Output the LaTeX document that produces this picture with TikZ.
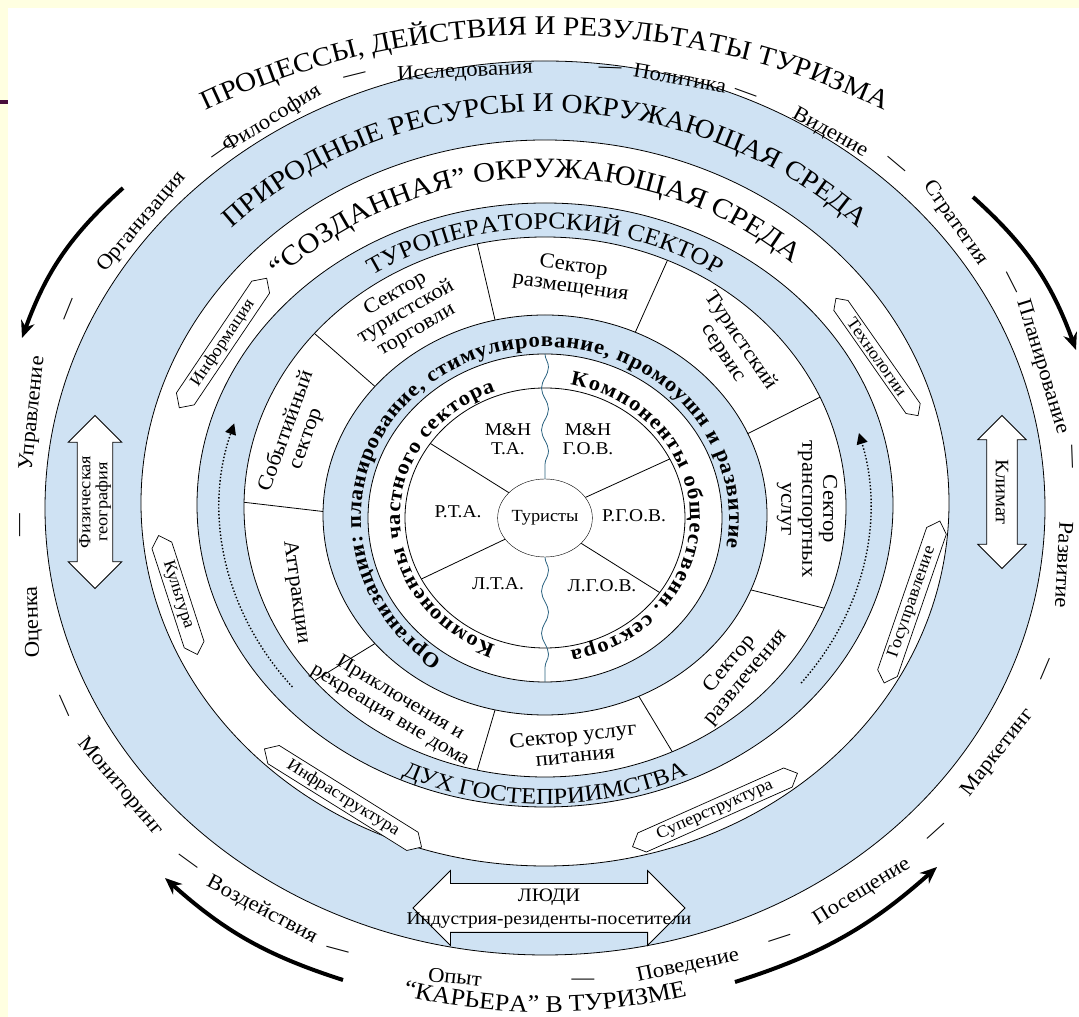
\documentclass[tikz,border=0pt]{standalone}
\usepackage{fontspec}
\setmainfont[FakeStretch=1.08]{Liberation Serif}
\usetikzlibrary{calc,arrows.meta,decorations.text,decorations.pathmorphing,shapes.arrows,shapes.symbols,shapes.geometric}

\definecolor{ringblue}{RGB}{207,226,243}
\definecolor{pagecream}{RGB}{255,255,225}
\definecolor{barpurple}{RGB}{72,12,58}
\definecolor{rivercol}{RGB}{45,100,130}

\newcommand{\fnttitle}{\fontsize{27}{27}\selectfont}
\newcommand{\fntmid}{\fontsize{24}{24}\selectfont}
\newcommand{\fntring}{\fontsize{21}{21}\selectfont\bfseries}
\newcommand{\fntcomp}{\fontsize{21}{21}\selectfont\bfseries}

\tikzset{
  ringline/.style={draw=black, line width=0.8pt},
  word/.style={font=\fontsize{21}{23}\selectfont, inner sep=0pt},
  sectortext/.style={font=\fontsize{21}{21}\selectfont, align=center, inner sep=0pt},
  cellstext/.style={font=\fontsize{18}{19}\selectfont, align=center, inner sep=0pt},
  tagarrow/.style={signal, signal to=east and west, draw, fill=white, line width=0.7pt,
    font=\fontsize{17}{17}\selectfont, inner xsep=17pt, inner ysep=3pt},
  bigarrow/.style={line width=4pt, -{Stealth[length=17pt,width=14pt]}},
  blockarrow/.style={double arrow, draw, fill=white, line width=0.8pt},
  dotarc/.style={dotted, line width=1.4pt, -{Triangle[length=11pt,width=11pt]}},
  river/.style={draw=rivercol, line width=0.8pt, decorate,
    decoration={snake, amplitude=3.5pt, segment length=42pt}},
}

\begin{document}
\begin{tikzpicture}[x=1pt,y=1pt]
\useasboundingbox (0,0) rectangle (1079,1017);
% page
\fill[pagecream] (0,0) rectangle (1079,1017);
\fill[white] (8,0) rectangle (1079,1009);
\fill[barpurple] (0,913) rectangle (8,917);

% centres of the rings
\coordinate (c0) at (545,499);
\coordinate (c3) at (545,502);
\coordinate (c4) at (545,510);
\coordinate (c5) at (545,512);
\coordinate (c6) at (545,514);
\coordinate (c7) at (545,509);
\coordinate (ct) at (545,417);

% rings
\fill[ringblue] (c7) ellipse [x radius=500, y radius=447];
\fill[white] (c6) ellipse [x radius=404, y radius=363];
\fill[ringblue] (c5) ellipse [x radius=348, y radius=302];
\fill[white] (c4) ellipse [x radius=301, y radius=270];
\fill[ringblue] (c3) ellipse [x radius=222, y radius=200];
\fill[white] (c0) ellipse [x radius=177, y radius=164];
\draw[ringline] (c7) ellipse [x radius=500, y radius=447];
\draw[ringline] (c6) ellipse [x radius=404, y radius=363];
\draw[ringline] (c5) ellipse [x radius=348, y radius=302];
\draw[ringline] (c4) ellipse [x radius=301, y radius=270];
\draw[ringline] (c3) ellipse [x radius=222, y radius=200];
\draw[ringline] (c0) ellipse [x radius=177, y radius=164];
\draw[ringline] (c0) ellipse [x radius=140, y radius=130];

% sector ring
\foreach \a in {179,140,103,66,24,-22,-65,-103,-140}
  \draw[ringline] ($(c3)+(\a:222 and 200)$) -- ($(c4)+(\a:301 and 270)$);

\node[sectortext, rotate=30] (trade) at (406,705) {Сектор\\туристской\\торговли};
\node[sectortext, rotate=-8] (lodging) at (572,740) {Сектор\\размещения};
\node[sectortext, rotate=-56] (service) at (732,670) {Туристский\\сервис};
\node[sectortext, rotate=-90] (transport) at (807,508) {Сектор\\транспортных\\услуг};
\node[sectortext, rotate=50] (leisure) at (738,346) {Сектор\\развлечения};
\node[sectortext, rotate=6] (food) at (574,272) {Сектор услуг\\питания};
\node[sectortext, rotate=-31, font=\fontsize{20}{20}\selectfont] (adventure) at (395,310) {Приключения и\\рекреация вне дома};
\node[sectortext, rotate=-82] (attract) at (296,425) {Аттракции};
\node[sectortext, rotate=70] (events) at (296,582) {Событийный\\сектор};

% inner circle
\node[draw, ellipse, minimum width=84pt, minimum height=78pt, inner sep=0pt,
  font=\fontsize{17}{17}\selectfont] (tourists) at (c0) {Туристы};
\foreach \a in {145,27,208,-35}
  \draw[ringline] (tourists.\a) -- ($(c0)+(\a:140 and 130)$);
\coordinate (rivtop) at (545,663);
\coordinate (rivbot) at (545,335);
\draw[river] (rivtop) -- (tourists.north);
\draw[river] (tourists.south) -- (rivbot);

\node[cellstext] (mhta) at (508,578) {M\&H\\Т.А.};
\node[cellstext] (mhgov) at (588,578) {M\&H\\Г.О.В.};
\node[cellstext] (rta) at (458,505) {Р.Т.А.};
\node[cellstext] (rgov) at (634,501) {Р.Г.О.В.};
\node[cellstext] (lta) at (498,433) {Л.Т.А.};
\node[cellstext] (lgov) at (602,431) {Л.Г.О.В.};

% texts along the rings
\path[decorate, decoration={text along path, text align={fit to path},
  text={|\fntcomp|Компоненты частного сектора}}]
  ($(c0)+(250:145 and 135)$) arc[start angle=250, end angle=110, x radius=145, y radius=135];
\path[decorate, decoration={text along path, text align={fit to path},
  text={|\fntcomp|Компоненты общественн. сектора}}]
  ($(c0)+(80:145 and 135)$) arc[start angle=80, end angle=-80, x radius=145, y radius=135];
\path[decorate, decoration={text along path, text align={fit to path},
  text={|\fntring|Организации: планирование, стимулирование, промоушн и развитие}}]
  ($(c0)+(236:184 and 171)$) arc[start angle=236, end angle=-10, x radius=184, y radius=171];

\path[decorate, decoration={text along path, text align=center,
  text={|\fntmid|ТУРОПЕРАТОРСКИЙ СЕКТОР}}]
  ($(c4)+(160:312 and 278)$) arc[start angle=160, end angle=20, x radius=312, y radius=278];
\path[decorate, decoration={text along path, text align=center,
  text={|\fontsize{23}{23}\selectfont|ДУХ ГОСТЕПРИИМСТВА}}]
  ($(c4)+(200:333 and 297)$) arc[start angle=200, end angle=340, x radius=333, y radius=297];
\path[decorate, decoration={text along path, text align=center,
  text={|\fontsize{28}{28}\selectfont|“СОЗДАННАЯ” ОКРУЖАЮЩАЯ СРЕДА}}]
  ($(c6)+(167:366 and 325)$) arc[start angle=167, end angle=17, x radius=366, y radius=325];
\path[decorate, decoration={text along path, text align=center,
  text={|\fnttitle|ПРИРОДНЫЕ РЕСУРСЫ И ОКРУЖАЮЩАЯ СРЕДА}}]
  ($(c6)+(165:440 and 391)$) arc[start angle=165, end angle=15, x radius=440, y radius=391];
\path[decorate, decoration={text along path, text align=center,
  text={|\fnttitle|ПРОЦЕССЫ, ДЕЙСТВИЯ И РЕЗУЛЬТАТЫ ТУРИЗМА}}]
  ($(ct)+(150:680 and 565)$) arc[start angle=150, end angle=30, x radius=680, y radius=565];
\path[decorate, decoration={text along path, text align=center,
  text={|\fntmid|“КАРЬЕРА” В ТУРИЗМЕ}}]
  ($(c7)+(200:560 and 504)$) arc[start angle=200, end angle=340, x radius=560, y radius=504];

% dotted arrows in the tour operator ring
\coordinate (dotL) at ($(c4)+(219:325 and 286)$);
\coordinate (dotR) at ($(c4)+(-38:325 and 286)$);
\draw[dotarc] (dotL) arc[start angle=219, end angle=163, x radius=325, y radius=286];
\draw[dotarc] (dotR) arc[start angle=-38, end angle=15, x radius=325, y radius=286];

% tags in the built environment ring
\node[tagarrow, rotate=56] (info) at (223,674) {Информация};
\node[tagarrow, rotate=-55] (tech) at (877,660) {Технологии};
\node[tagarrow, rotate=-72] (culture) at (178,422) {Культура};
\node[tagarrow, rotate=71] (govern) at (912,415) {Госуправление};
\node[tagarrow, rotate=-32] (infra) at (343,219) {Инфраструктура};
\node[tagarrow, rotate=24] (super) at (715,207) {Суперструктура};

% block arrows in the natural ring
\node[blockarrow, rotate=90, minimum height=173pt, double arrow head extend=9pt,
  inner xsep=2pt, inner ysep=1.5pt, align=center, font=\fontsize{17}{17}\selectfont]
  (physgeo) at (95,515) {Физическая\\география};
\node[blockarrow, rotate=-90, minimum height=153pt, double arrow head extend=9pt,
  inner xsep=2pt, inner ysep=8.5pt, font=\fontsize{19}{19}\selectfont]
  (climate) at (1002,525) {Климат};
\node[blockarrow, minimum height=272pt, inner ysep=24pt, double arrow head extend=13pt]
  (people) at (549,109) {};
\node[font=\fontsize{19}{19}\selectfont, inner sep=0pt] (peoplet) at (549,120) {ЛЮДИ};
\node[font=\fontsize{18}{18}\selectfont, inner sep=0pt] (peopleb) at (549,96) {Индустрия-резиденты-посетители};

% outer words
\node[word, rotate=32] (w1) at (272,898) {Философия};
\node[word, rotate=14] (d1) at (355,940) {—};
\node[word, rotate=3] (w2) at (465,945) {Исследования};
\node[word, rotate=-2] (d2) at (610,947) {—};
\node[word, rotate=-10] (w3) at (680,939) {Политика};
\node[word, rotate=-20] (d3) at (745,922) {—};
\node[word, rotate=-29] (w4) at (830,884) {Видение};
\node[word, rotate=-40] (d4) at (895,851) {—};
\node[word, rotate=-55] (w5) at (955,794) {Стратегия};
\node[word, rotate=-63] (d5) at (1010,734) {—};
\node[word, rotate=-73] (w6) at (1042,650) {Планирование};
\node[word, rotate=-88] (d6) at (1070,560) {—};
\node[word, rotate=-93] (w7) at (1064,452) {Развитие};
\node[word, rotate=67] (d7) at (1047,347) {—};
\node[word, rotate=52] (w8) at (998,264) {Маркетинг};
\node[word, rotate=42] (d8) at (937,184) {—};
\node[word, rotate=32] (w9) at (862,125) {Посещение};
\node[word, rotate=18] (d9) at (780,77) {—};
\node[word, rotate=12] (w10) at (688,51) {Поведение};
\node[word] (d10) at (583,35) {—};
\node[word, rotate=-6] (w11) at (455,40) {Опыт};
\node[word, rotate=-15] (d11) at (337,65) {—};
\node[word, rotate=-28] (w12) at (262,107) {Воздействия};
\node[word, rotate=-36] (d12) at (187,154) {—};
\node[word, rotate=-50] (w13) at (120,230) {Мониторинг};
\node[word, rotate=-66] (d13) at (63,310) {—};
\node[word, rotate=92] (w14) at (33,395) {Оценка};
\node[word, rotate=90] (d14) at (22,492) {—};
\node[word, rotate=84] (w15) at (33,604) {Управление};
\node[word, rotate=68] (d15) at (70,707) {—};
\node[word, rotate=50] (w16) at (142,795) {Организация};
\node[word, rotate=35] (d16) at (222,864) {—};

% thick arrows of the outer cycle
\coordinate (a1s) at (123,829); \coordinate (a1e) at (22,679);
\coordinate (a2s) at (973,820); \coordinate (a2e) at (1076,667);
\coordinate (a3s) at (343,37);  \coordinate (a3e) at (165,139);
\coordinate (a4s) at (735,35);  \coordinate (a4e) at (937,150);
\draw[bigarrow] (a1s) to[bend right=14] (a1e);
\draw[bigarrow] (a2s) to[bend left=14] (a2e);
\draw[bigarrow] (a3s) to[bend left=12] (a3e);
\draw[bigarrow] (a4s) to[bend right=12] (a4e);
\end{tikzpicture}
\end{document}
